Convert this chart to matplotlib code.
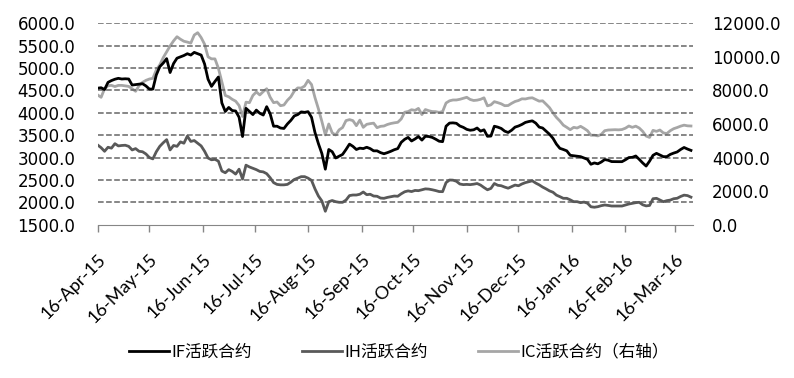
import numpy as np
import pandas as pd
import matplotlib
matplotlib.use("Agg")
import matplotlib.pyplot as plt
from matplotlib.font_manager import FontProperties

# values, one point every 2 days from 16-Apr-15
start_date = "2015-04-16"
if_vals = [4550, 4560, 4520, 4680, 4720, 4750, 4770, 4755, 4760, 4755,
           4620, 4630, 4640, 4650, 4600, 4530, 4530, 4845, 5030, 5110,
           5210, 4900, 5100, 5220, 5250, 5280, 5320, 5290, 5350, 5320,
           5290, 5090, 4750, 4590, 4700, 4800, 4220, 4030, 4120, 4050,
           4040, 3900, 3470, 4100, 4030, 3960, 4060, 3990, 3950, 4137,
           3980, 3700, 3700, 3660, 3650, 3750, 3830, 3930, 3960, 4020,
           4010, 4025, 3900, 3560, 3310, 3090, 2740, 3180, 3130, 2990,
           3030, 3070, 3180, 3300, 3250, 3180, 3210, 3200, 3230, 3200,
           3150, 3150, 3110, 3085, 3110, 3140, 3175, 3200, 3340, 3407,
           3450, 3370, 3415, 3470, 3390, 3475, 3470, 3450, 3410, 3365,
           3355, 3700, 3770, 3775, 3765, 3705, 3675, 3630, 3610, 3620,
           3660, 3590, 3620, 3475, 3480, 3700, 3680, 3650, 3590, 3560,
           3610, 3680, 3705, 3740, 3785, 3805, 3820, 3770, 3680, 3660,
           3590, 3520, 3430, 3300, 3206, 3180, 3150, 3050, 3040, 3030,
           3020, 2990, 2960, 2850, 2880, 2860, 2900, 2955, 2940, 2910,
           2908, 2908, 2908, 2950, 3000, 3005, 3035, 2960, 2880, 2810,
           2920, 3050, 3094, 3057, 3020, 3020, 3070, 3100, 3125, 3180,
           3225, 3190, 3160]
ih_vals = [3280, 3220, 3140, 3230, 3210, 3310, 3260, 3270, 3275, 3250,
           3170, 3200, 3140, 3130, 3080, 3000, 2970, 3130, 3250, 3330,
           3400, 3170, 3270, 3250, 3350, 3320, 3480, 3360, 3380, 3320,
           3260, 3140, 2990, 2950, 2960, 2920, 2700, 2660, 2730, 2690,
           2630, 2740, 2520, 2830, 2790, 2760, 2730, 2690, 2680, 2640,
           2550, 2440, 2400, 2390, 2390, 2400, 2450, 2510, 2540, 2573,
           2573, 2540, 2490, 2300, 2140, 2030, 1800, 2014, 2040, 2014,
           2000, 2000, 2050, 2150, 2163, 2163, 2180, 2230, 2170, 2180,
           2140, 2135, 2095, 2089, 2110, 2125, 2140, 2135, 2190, 2235,
           2255, 2240, 2265, 2260, 2280, 2300, 2295, 2280, 2262, 2240,
           2238, 2440, 2498, 2495, 2470, 2409, 2395, 2400, 2395, 2405,
           2420, 2385, 2330, 2280, 2310, 2420, 2380, 2370, 2340, 2315,
           2350, 2385, 2370, 2410, 2440, 2461, 2480, 2430, 2390, 2340,
           2300, 2255, 2225, 2160, 2126, 2089, 2089, 2055, 2014, 2014,
           1992, 2005, 1980, 1900, 1890, 1902, 1925, 1940, 1930, 1917,
           1917, 1917, 1917, 1940, 1962, 1977, 1992, 2000, 1945, 1920,
           1930, 2080, 2089, 2052, 2014, 2037, 2050, 2080, 2090, 2130,
           2160, 2150, 2115]
ic_vals = [7730, 7590, 8100, 8280, 8300, 8230, 8300, 8300, 8270, 8240,
           8100, 7950, 8280, 8480, 8600, 8680, 8720, 9220, 9520, 9950,
           10300, 10650, 10950, 11200, 11050, 10930, 10880, 10820, 11300, 11440,
           11150, 10750, 10000, 9880, 9880, 9320, 8500, 7700, 7620, 7470,
           7360, 7100, 6450, 7300, 7270, 7700, 7910, 7730, 7930, 8100,
           7600, 7270, 7310, 7090, 7130, 7410, 7620, 7960, 8150, 8140,
           8260, 8600, 8350, 7570, 6900, 6150, 5350, 6000, 5470, 5343,
           5650, 5790, 6200, 6260, 6200, 5900, 6230, 5800, 5980, 6020,
           6050, 5780, 5860, 5880, 5970, 6030, 6070, 6100, 6300, 6700,
           6740, 6850, 6810, 6930, 6560, 6860, 6790, 6740, 6734, 6690,
           6740, 7250, 7380, 7430, 7430, 7470, 7530, 7590, 7460, 7400,
           7420, 7470, 7560, 7080, 7140, 7330, 7270, 7200, 7090, 7100,
           7230, 7340, 7400, 7500, 7490, 7540, 7560, 7460, 7360, 7380,
           7180, 6970, 6660, 6390, 6180, 5930, 5800, 5660, 5800, 5760,
           5860, 5740, 5600, 5330, 5330, 5290, 5380, 5600, 5640, 5650,
           5660, 5650, 5670, 5750, 5880, 5800, 5870, 5760, 5560, 5280,
           5200, 5620, 5560, 5640, 5470, 5430, 5600, 5720, 5790, 5870,
           5930, 5890, 5880]

dates = pd.date_range(start_date, periods=len(if_vals), freq="2D")

tick_dates = pd.to_datetime(["2015-04-16", "2015-05-16", "2015-06-16", "2015-07-16",
                             "2015-08-16", "2015-09-16", "2015-10-16", "2015-11-16",
                             "2015-12-16", "2016-01-16", "2016-02-16", "2016-03-16"])
tick_labels = ["16-Apr-15", "16-May-15", "16-Jun-15", "16-Jul-15", "16-Aug-15",
               "16-Sep-15", "16-Oct-15", "16-Nov-15", "16-Dec-15", "16-Jan-16",
               "16-Feb-16", "16-Mar-16"]
left_ticks = np.arange(1500, 6001, 500)
right_ticks = np.arange(0, 12001, 2000)
names = ["IF活跃合约", "IH活跃合约", "IC活跃合约（右轴）"]

fig = plt.figure(figsize=(7.94, 3.78), dpi=100)
ax = fig.add_axes([0.123, 0.4056, 0.7494, 0.5328])
ax2 = ax.twinx()
# left axes on top (transparent), the right one underneath
ax.set_zorder(1)
ax.patch.set_visible(False)
ax2.set_zorder(0)

x0, x1 = pd.Timestamp("2015-04-16"), pd.Timestamp("2016-03-26")

# dashed grid at the left-axis ticks (the bottom one is the axis itself)
ax.hlines(left_ticks[1:], x0, x1, colors="#666666", linestyles="dashed", lw=1.1, zorder=1)

l1, = ax.plot(dates, if_vals, color="black", lw=2.0, zorder=3)
l2, = ax.plot(dates, ih_vals, color="#595959", lw=2.0, zorder=3)
l3, = ax2.plot(dates, ic_vals, color="#a6a6a6", lw=2.0, zorder=2)

ax.set_xlim(x0, x1)
ax.set_ylim(1500, 6000)
ax2.set_ylim(0, 12000)

ax.set_yticks(left_ticks)
ax.set_yticklabels([f"{v:.1f}" for v in left_ticks], fontsize=12, family="DejaVu Sans")
ax2.set_yticks(right_ticks)
ax2.set_yticklabels([f"{v:.1f}" for v in right_ticks], fontsize=12, family="DejaVu Sans")
ax.tick_params(axis="y", length=0, pad=16, colors="black")
ax2.tick_params(axis="y", length=0, pad=14, colors="black")

ax.set_xticks(tick_dates)
ax.set_xticklabels(tick_labels, rotation=45, ha="right", va="top",
                   rotation_mode="anchor", fontsize=13, family="Lato")
ax.tick_params(axis="x", direction="out", length=5, width=1, color="#868686", pad=14)

for a in (ax, ax2):
    for s in ("top", "left", "right"):
        a.spines[s].set_visible(False)
    a.spines["bottom"].set_color("#868686")
ax2.spines["bottom"].set_visible(False)

fig.legend([l1, l2, l3], names, loc="center", bbox_to_anchor=(0.5025, 0.069),
           ncol=3, frameon=False, handlelength=2.4, handletextpad=0.15,
           columnspacing=3.0, prop=FontProperties(family="Noto Sans CJK SC", size=12))

fig.savefig("out.png", dpi=100, facecolor="white")
